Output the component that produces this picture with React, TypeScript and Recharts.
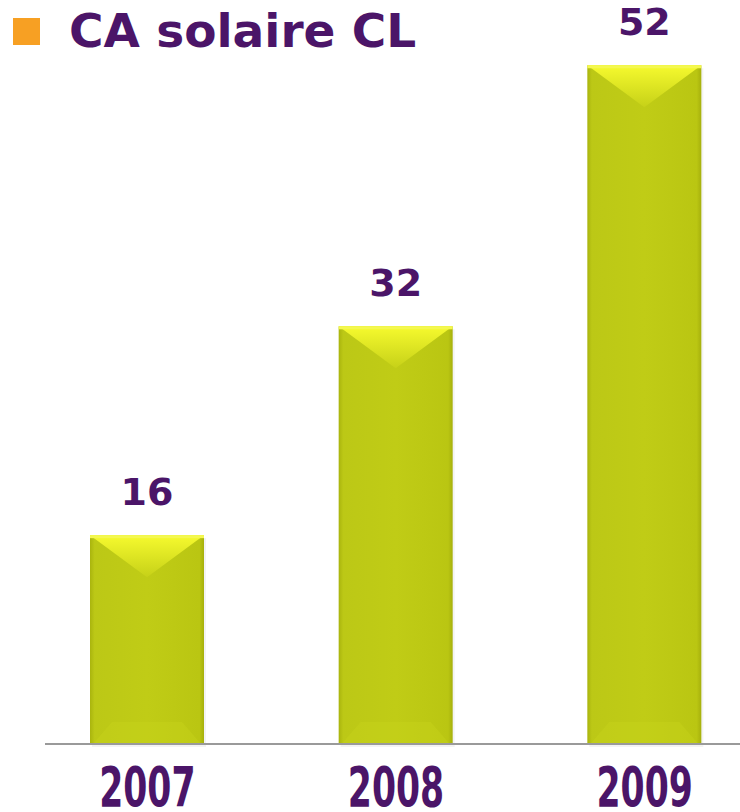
import { BarChart, Bar, XAxis, YAxis, LabelList } from "recharts";

const years = ["2007", "2008", "2009"];
const revenue = [16, 32, 52];
const title = "CA solaire CL";

const data = years.map((year, i) => ({ year, value: revenue[i] }));

const PURPLE = "#4B1568";

const BevelBar = (props: any) => {
  const { x, y, width, height } = props;
  if (!height || height <= 0) return null;
  const d = Math.min(42, height / 2);
  const cx = x + width / 2;
  const b = y + height;
  return (
    <g>
      <rect x={x + 2} y={y + 3} width={width} height={height} fill="#8a8a8a" opacity={0.1} />
      <rect x={x} y={y} width={width} height={height} fill="url(#bodyGrad)" />
      <polygon points={`${x},${y} ${x + width},${y} ${cx},${y + d}`} fill="url(#topGrad)" />
      <polygon
        points={`${x + 3},${b} ${x + width - 3},${b} ${x + width - 22},${b - 22} ${x + 22},${b - 22}`}
        fill="#C9D41C"
        opacity={0.4}
      />
      <rect x={x} y={y} width={width} height={3} fill="#F4F850" />
    </g>
  );
};

const YearTick = (props: any) => {
  const { x, y, payload } = props;
  return (
    <g transform={`translate(${x},${y})`}>
      <text
        x={0}
        y={0}
        dy={54}
        textAnchor="middle"
        fill={PURPLE}
        fontFamily="'DejaVu Sans Condensed', 'Liberation Sans Narrow', sans-serif"
        fontWeight="bold"
        fontSize={55}
        transform="scale(0.7,1)"
      >
        {payload.value}
      </text>
    </g>
  );
};

export default function App() {
  return (
    <div style={{ position: "absolute", left: 0, top: 0, width: 740, height: 812, overflow: "hidden", background: "#fff" }}>
      <BarChart width={740} height={812} data={data} margin={{ top: 0, right: 0, bottom: 0, left: 45 }}>
        <defs>
          <linearGradient id="bodyGrad" x1="0" y1="0" x2="1" y2="0">
            <stop offset="0%" stopColor="#A9B40E" />
            <stop offset="4%" stopColor="#BCC816" />
            <stop offset="50%" stopColor="#C0CC16" />
            <stop offset="96%" stopColor="#BAC612" />
            <stop offset="100%" stopColor="#A6B00C" />
          </linearGradient>
          <linearGradient id="topGrad" x1="0" y1="0" x2="0" y2="1">
            <stop offset="0%" stopColor="#F6FA2E" />
            <stop offset="100%" stopColor="#C6D118" />
          </linearGradient>
        </defs>
        <XAxis
          dataKey="year"
          height={68}
          padding={{ left: -22, right: -29 }}
          tickLine={false}
          axisLine={{ stroke: "#9A9A9A", strokeWidth: 2 }}
          tick={<YearTick />}
          interval={0}
        />
        <YAxis hide domain={[0, 57]} />
        <Bar dataKey="value" barSize={114} shape={<BevelBar />} isAnimationActive={false}>
          <LabelList
            dataKey="value"
            position="top"
            offset={30}
            fill={PURPLE}
            fontFamily="'DejaVu Sans', sans-serif"
            fontWeight="bold"
            fontSize={38}
          />
        </Bar>
      </BarChart>
      <div style={{ position: "absolute", left: 13, top: 18, width: 27, height: 27, background: "#F7A023" }} />
      <div
        style={{
          position: "absolute",
          left: 69,
          top: 3,
          fontFamily: "'DejaVu Sans', sans-serif",
          fontWeight: "bold",
          fontSize: 47,
          color: PURPLE,
          lineHeight: "56px",
          whiteSpace: "nowrap",
        }}
      >
        {title}
      </div>
    </div>
  );
}
